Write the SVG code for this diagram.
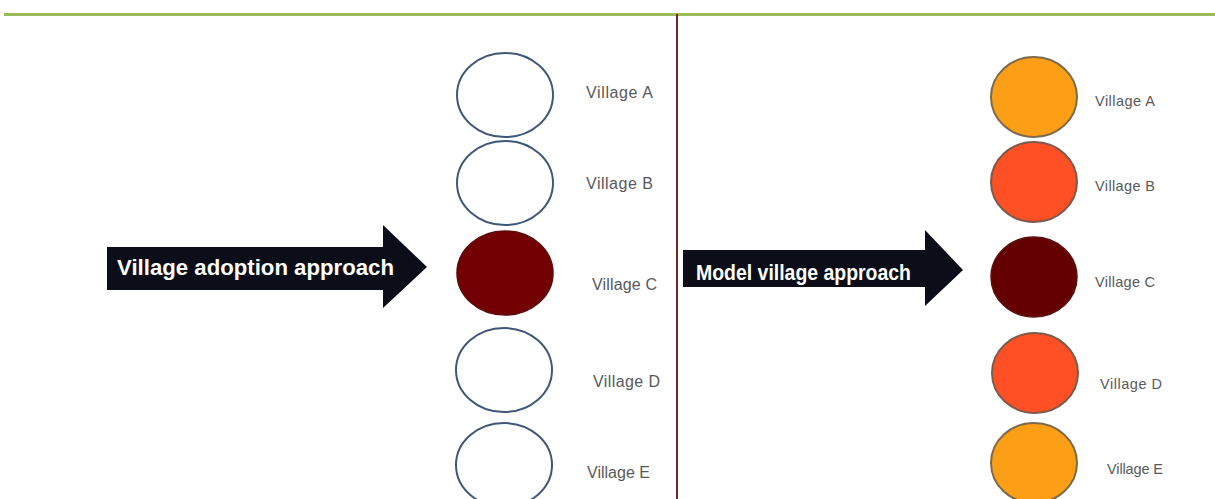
<svg xmlns="http://www.w3.org/2000/svg" width="1215" height="499" viewBox="0 0 1215 499">
<style>
.lbl{font-family:"Liberation Sans",Arial,sans-serif;font-size:16px;fill:#595959}
.lblr{font-family:"Liberation Sans",Arial,sans-serif;font-size:14.5px;fill:#595959}
.arrtxt{font-family:"Liberation Sans",Arial,sans-serif;font-weight:bold;font-size:22px;fill:#ffffff}
.empty{fill:#ffffff;stroke:#3f5878;stroke-width:2}
.arrow{fill:#0b0e18}
.orange{fill:#fd9f16;stroke:#7d6a4a;stroke-width:2}
.red{fill:#ff4f25;stroke:#7d5a4a;stroke-width:2}
.dark{fill:#650000;stroke:#5a1010;stroke-width:1.5}
</style>
<rect width="1215" height="499" fill="#ffffff"/>
<line x1="4" y1="14.5" x2="1215" y2="14.5" stroke="#9bbb59" stroke-width="3"/>
<line x1="677" y1="14" x2="677" y2="499" stroke="#7b2424" stroke-width="2"/>

<g id="arrow-left">
  <path class="arrow" d="M107,247 L383,247 L383,225 L427,267 L383,308 L383,290 L107,290 Z"/>
  <text class="arrtxt" x="117" y="275" textLength="277" lengthAdjust="spacingAndGlyphs">Village adoption approach</text>
</g>
<g id="arrow-right">
  <path class="arrow" d="M683,250 L925,250 L925,230 L963,270 L925,306 L925,287 L683,287 Z"/>
  <text class="arrtxt" x="696" y="280" textLength="215" lengthAdjust="spacingAndGlyphs">Model village approach</text>
</g>

<g id="left-village-a"><ellipse class="empty" cx="505" cy="95" rx="48" ry="42"/><text class="lbl" x="586" y="98" textLength="67">Village A</text></g>
<g id="left-village-b"><ellipse class="empty" cx="505" cy="183" rx="48" ry="42"/><text class="lbl" x="586" y="189" textLength="67">Village B</text></g>
<g id="left-village-c"><ellipse fill="#720003" stroke="#5a0a0a" stroke-width="1.5" cx="505" cy="273" rx="48" ry="42"/><text class="lbl" x="592" y="290" textLength="65">Village C</text></g>
<g id="left-village-d"><ellipse class="empty" cx="504" cy="370" rx="48" ry="42"/><text class="lbl" x="593" y="387" textLength="67">Village D</text></g>
<g id="left-village-e"><ellipse class="empty" cx="504" cy="465" rx="48" ry="42"/><text class="lbl" x="587" y="478" textLength="63">Village E</text></g>

<g id="right-village-a"><ellipse class="orange" cx="1034" cy="97" rx="43" ry="40"/><text class="lblr" x="1095" y="106" textLength="60">Village A</text></g>
<g id="right-village-b"><ellipse class="red" cx="1034" cy="182" rx="43" ry="40"/><text class="lblr" x="1095" y="191" textLength="60">Village B</text></g>
<g id="right-village-c"><ellipse class="dark" cx="1034" cy="277" rx="43" ry="40"/><text class="lblr" x="1095" y="287" textLength="60">Village C</text></g>
<g id="right-village-d"><ellipse class="red" cx="1035" cy="373" rx="43" ry="40"/><text class="lblr" x="1100" y="389" textLength="62">Village D</text></g>
<g id="right-village-e"><ellipse class="orange" cx="1034" cy="463" rx="43" ry="40"/><text class="lblr" x="1107" y="474" textLength="56">Village E</text></g>

<g id="connectors"></g>
</svg>
